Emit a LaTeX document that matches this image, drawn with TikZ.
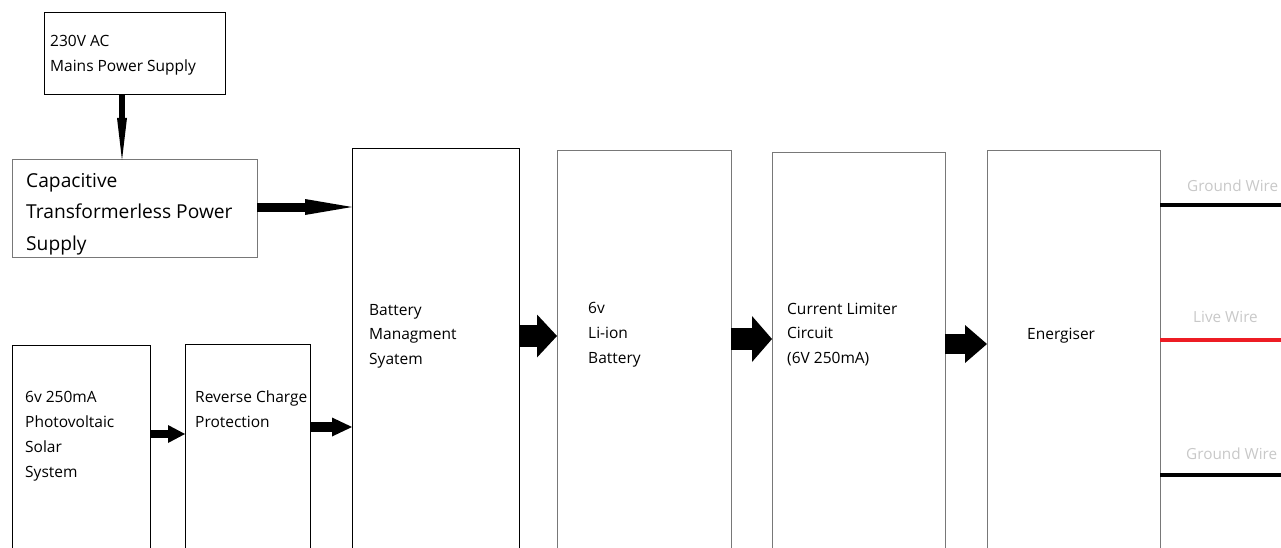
\documentclass[tikz,border=0pt]{standalone}
\usepackage{fontspec}
\setmainfont{Open Sans}
\usetikzlibrary{arrows.meta}
\definecolor{wirered}{RGB}{237,28,36}
\definecolor{labelgray}{RGB}{200,200,200}
\definecolor{edgegray}{RGB}{120,120,120}
\begin{document}
\begin{tikzpicture}[x=1pt,y=-1pt,
  box/.style={draw=black, line width=1pt, inner sep=0pt, outer sep=0pt, anchor=north west},
  gbox/.style={box, draw=edgegray},
  txt/.style={anchor=base west, align=left, inner sep=0pt, font=\fontsize{15.5}{24.7}\selectfont},
  bigtxt/.style={txt, font=\fontsize{19.2}{31.5}\selectfont},
  wlabel/.style={anchor=base west, inner sep=0pt, text=labelgray, font=\fontsize{15.3}{17}\selectfont},
  arr/.style n args={3}{line width=#1pt, -{Triangle[length=#2pt,width=#3pt,line width=0pt]}},
  wire/.style={line width=4pt}]
\useasboundingbox (0,0) rectangle (1281,548);
\clip (0,0) rectangle (1281,548);
% boxes
\node[box,  minimum width=181pt, minimum height=82pt]  (mains) at (44,13) {};
\node[gbox, minimum width=245pt, minimum height=97pt]  (cap)   at (12,160) {};
\node[box,  minimum width=167pt, minimum height=420pt] (bms)   at (352,149) {};
\node[gbox, minimum width=174pt, minimum height=420pt] (li)    at (557,151) {};
\node[gbox, minimum width=173pt, minimum height=420pt] (cl)    at (772,153) {};
\node[gbox, minimum width=173pt, minimum height=420pt] (en)    at (987,151) {};
\node[box,  minimum width=138pt, minimum height=220pt] (pv)    at (12,345) {};
\node[box,  minimum width=125pt, minimum height=220pt] (rcp)   at (185,344) {};
% texts (anchor = baseline of the last line)
\node[txt, font=\fontsize{15.5}{25}\selectfont] (tmains) at (50,72) {230V AC\\Mains Power Supply};
\node[bigtxt] (tcap) at (26,250) {Capacitive\\Transformerless Power\\Supply};
\node[txt, font=\fontsize{15.5}{24.5}\selectfont] (tbms) at (369,364) {Battery\\Managment\\Syatem};
\node[txt, font=\fontsize{15.5}{25}\selectfont] (tli) at (588,363) {6v\\Li-ion\\Battery};
\node[txt, font=\fontsize{15.5}{24.5}\selectfont] (tcl) at (787,363) {Current Limiter\\Circuit\\(6V 250mA)};
\node[txt] (ten) at (1027,339) {Energiser};
\node[txt] (tpv) at (25,477) {6v 250mA\\Photovoltaic\\Solar\\System};
\node[txt, font=\fontsize{15.5}{25}\selectfont] (trcp) at (195,427) {Reverse Charge\\Protection};
% arrow levels
\coordinate (y1) at (0,207);
\coordinate (y2) at (0,336);
\coordinate (y3) at (0,339);
\coordinate (y4) at (0,344);
\coordinate (y5) at (0,434);
\coordinate (y6) at (0,427);
% arrows
\draw[arr={6}{42}{10}] ([xshift=-12.5pt]mains.south) -- ([xshift=-12.5pt]cap.north);
\draw[arr={9}{47}{16}] (cap.east |- y1) -- (bms.west |- y1);
\draw[arr={22}{20}{43}] (bms.east |- y2) -- (li.west |- y2);
\draw[arr={22}{20}{46}] (li.east |- y3) -- (cl.west |- y3);
\draw[arr={20}{22}{38}] (cl.east |- y4) -- (en.west |- y4);
\draw[arr={8}{17}{18}] (pv.east |- y5) -- (rcp.west |- y5);
\draw[arr={10}{20}{19}] (rcp.east |- y6) -- (bms.west |- y6);
% wires
\coordinate (w1) at (1281,205);
\coordinate (w2) at (1281,340);
\coordinate (w3) at (1281,475);
\draw[wire] (en.east |- w1) -- (w1);
\draw[wire, wirered] (en.east |- w2) -- (w2);
\draw[wire] (en.east |- w3) -- (w3);
\node[wlabel] (lg1) at (1187,192) {Ground Wire};
\node[wlabel] (llive) at (1193,322) {Live Wire};
\node[wlabel] (lg2) at (1186,459) {Ground Wire};
\end{tikzpicture}
\end{document}
